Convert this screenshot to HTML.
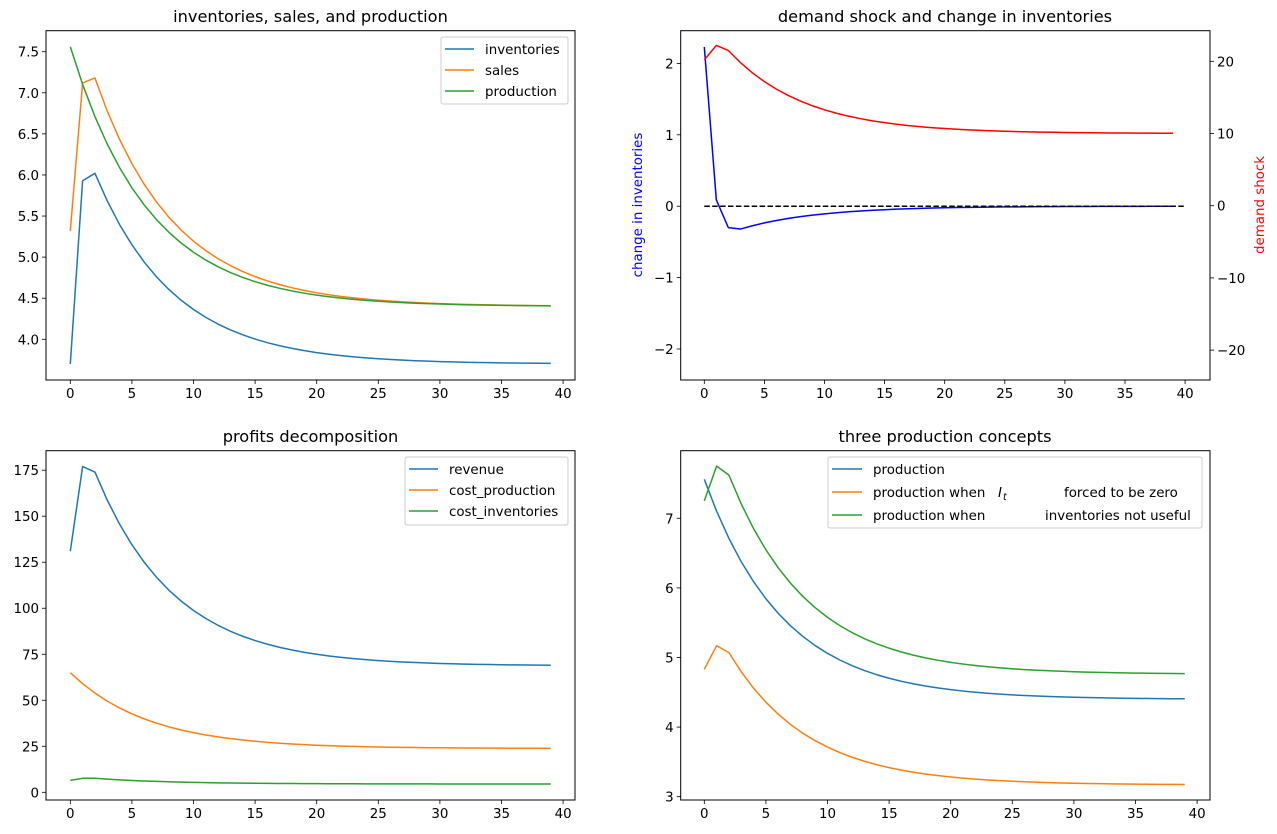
<!DOCTYPE html>
<html><head><meta charset="utf-8"><style>
html,body{margin:0;padding:0;background:#fff;}
svg{display:block;font-family:"DejaVu Sans","Liberation Sans",sans-serif;}
</style></head><body>
<svg id="s" width="1277" height="834" xmlns="http://www.w3.org/2000/svg">
<rect width="1277" height="834" fill="#fff"/>
<g id="g"></g>
</svg>
<script>
const NS="http://www.w3.org/2000/svg";const G=document.getElementById('g');
const FS=13.4,TS=16.2;
function el(t,a,txt){const e=document.createElementNS(NS,t);for(const k in a)e.setAttribute(k,a[k]);if(txt!==undefined)e.textContent=txt;G.appendChild(e);return e;}
function series(init,ss,r,n){const a=init.slice();let d=a[a.length-1]-ss;while(a.length<n){d*=r;a.push(ss+d);}return a;}
function line(data,fx,fy,col,extra){let p=data.map((v,i)=>fx(i).toFixed(2)+','+fy(v).toFixed(2)).join(' ');const o={points:p,fill:'none',stroke:col,'stroke-width':1.5,'stroke-linejoin':'round'};Object.assign(o,extra||{});el('polyline',o);}
function box(l,t,r,b){el('rect',{x:l,y:t,width:r-l,height:b-t,fill:'none',stroke:'#000','stroke-width':1});}
function xticks(fx,b){for(let v=0;v<=40;v+=5){const x=fx(v);el('line',{x1:x,y1:b,x2:x,y2:b+4,stroke:'#000','stroke-width':0.8});el('text',{x:x,y:b+18,'text-anchor':'middle','font-size':FS},String(v));}}
function yticks(vals,fy,l,labels,right){vals.forEach((v,i)=>{const y=fy(v);if(right){el('line',{x1:l,y1:y,x2:l+4,y2:y,stroke:'#000','stroke-width':0.8});el('text',{x:l+7,y:y+5,'text-anchor':'start','font-size':FS},labels[i]);}else{el('line',{x1:l-4,y1:y,x2:l,y2:y,stroke:'#000','stroke-width':0.8});el('text',{x:l-7,y:y+5,'text-anchor':'end','font-size':FS},labels[i]);}});}
function title(x,y,s){el('text',{x:x,y:y,'text-anchor':'middle','font-size':TS},s);}
const B='#1f77b4',O='#ff7f0e',Gr='#2ca02c';
const r=0.855,N=40;
// Panel 1
{const fx=i=>70.3+i*12.32,fy=v=>51.7+(7.5-v)*82.17;
line(series([3.70,5.93,6.02],3.70,r,N),fx,fy,B);
line(series([5.32,7.12,7.18],4.40,r,N),fx,fy,O);
line(series([7.56],4.40,r,N),fx,fy,Gr);
box(46,30.7,575,380);xticks(fx,380);
yticks([4,4.5,5,5.5,6,6.5,7,7.5],fy,46,['4.0','4.5','5.0','5.5','6.0','6.5','7.0','7.5']);
title(310.5,22,'inventories, sales, and production');
el('rect',{x:441,y:37,width:127,height:67,rx:2,fill:'#fff','fill-opacity':0.8,stroke:'#ccc'});
[['inventories',B,49],['sales',O,70],['production',Gr,91]].forEach(a=>{el('line',{x1:445,y1:a[2],x2:474,y2:a[2],stroke:a[1],'stroke-width':1.5});el('text',{x:485,y:a[2]+5,'font-size':FS},a[0]);});}
// Panel 2
{const fx=i=>704.3+i*12.02,fy=v=>206.2-71.4*v,fy2=v=>205.7-7.22*v;
line(series([2.23,0.09,-0.30,-0.32],0,r,N),fx,fy,'#0000ff');
line(series([20.2,22.2,21.5],10,r,N),fx,fy2,'#ff0000');
el('line',{x1:fx(0),y1:fy(0),x2:fx(40),y2:fy(0),stroke:'#000','stroke-width':1.5,'stroke-dasharray':'5.5,2.4'});
box(680.7,30.7,1210,380);xticks(fx,380);
yticks([-2,-1,0,1,2],fy,680.7,['\u22122','\u22121','0','1','2']);
yticks([-20,-10,0,10,20],fy2,1210,['\u221220','\u221210','0','10','20'],true);
title(945,22,'demand shock and change in inventories');
el('text',{x:0,y:0,'font-size':FS,fill:'#0000ff','text-anchor':'middle',transform:'translate(642,205) rotate(-90)'},'change in inventories');
el('text',{x:0,y:0,'font-size':FS,fill:'#ff0000','text-anchor':'middle',transform:'translate(1264,205) rotate(-90)'},'demand shock');}
// Panel 3
{const fx=i=>70.3+i*12.32,fy=v=>792.3-1.8406*v;
line(series([131,177,174],68.7,r,N),fx,fy,B);
line(series([65],23.8,r,N),fx,fy,O);
line(series([6.5,7.6,7.6],4.5,r,N),fx,fy,Gr);
box(46,450.7,575,800);xticks(fx,800);
yticks([0,25,50,75,100,125,150,175],fy,46,['0','25','50','75','100','125','150','175']);
title(310.5,442,'profits decomposition');
el('rect',{x:405,y:457,width:163,height:68,rx:2,fill:'#fff','fill-opacity':0.8,stroke:'#ccc'});
[['revenue',B,469],['cost_production',O,490],['cost_inventories',Gr,511]].forEach(a=>{el('line',{x1:409,y1:a[2],x2:438,y2:a[2],stroke:a[1],'stroke-width':1.5});el('text',{x:449,y:a[2]+5,'font-size':FS},a[0]);});}
// Panel 4
{const fx=i=>704.3+i*12.32,fy=v=>796.7-(v-3)*69.6;
line(series([7.56],4.40,r,N),fx,fy,B);
line(series([4.83,5.17,5.07],3.17,r,N),fx,fy,O);
line(series([7.25,7.75,7.62],4.76,r,N),fx,fy,Gr);
box(680.7,450.7,1210,800);xticks(fx,800);
yticks([3,4,5,6,7],fy,680.7,['3','4','5','6','7']);
title(945,442,'three production concepts');
el('rect',{x:828,y:457,width:374,height:71,rx:2,fill:'#fff','fill-opacity':0.8,stroke:'#ccc'});
[[B,469],[O,492],[Gr,515]].forEach(a=>{el('line',{x1:832,y1:a[1],x2:862,y2:a[1],stroke:a[0],'stroke-width':1.5});});
el('text',{x:873,y:474,'font-size':FS},'production');
el('text',{x:873,y:497,'font-size':FS},'production when');
el('text',{x:998,y:497,'font-size':FS,'font-style':'italic'},'I');
el('text',{x:1003,y:500,'font-size':9.5,'font-style':'italic'},'t');
el('text',{x:1064,y:497,'font-size':FS},'forced to be zero');
el('text',{x:873,y:520,'font-size':FS},'production when');
el('text',{x:1045,y:520,'font-size':FS},'inventories not useful');}
</script>
</body></html>
